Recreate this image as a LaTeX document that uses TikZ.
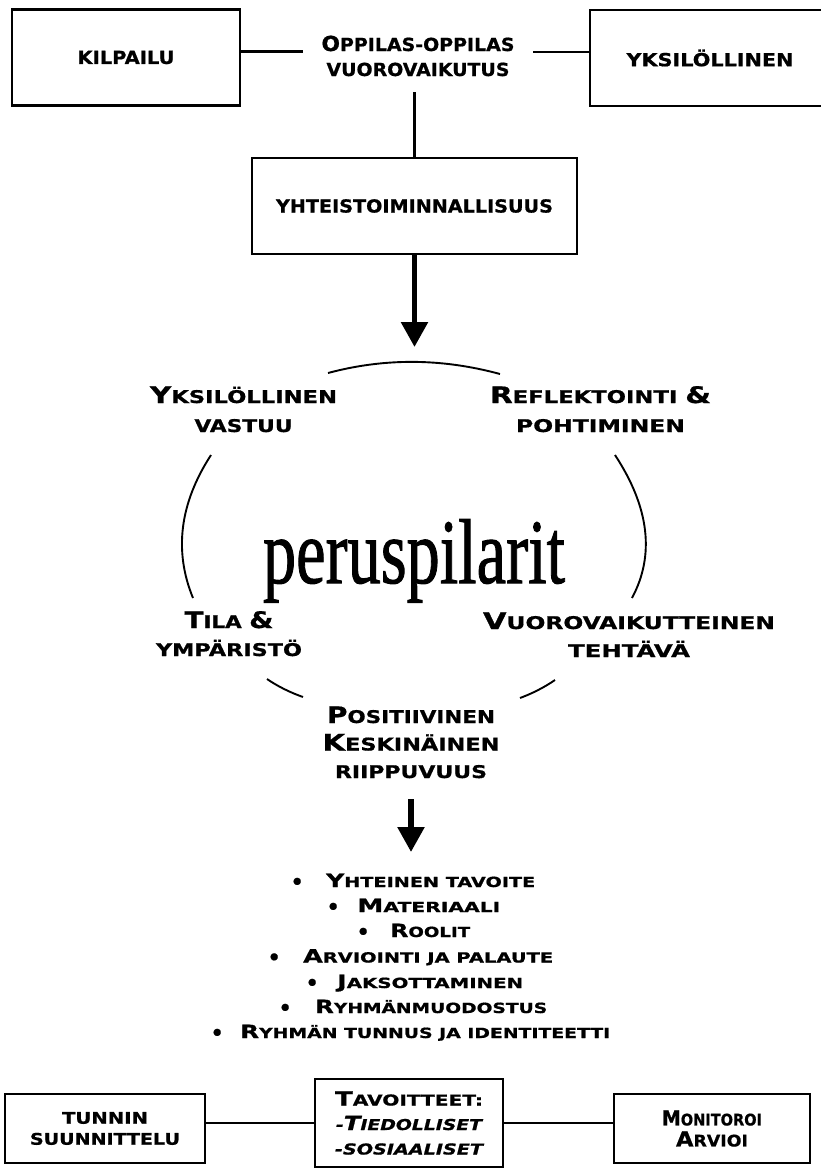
\documentclass[tikz,border=0pt]{standalone}
\usepackage{fontspec}
\usetikzlibrary{arrows.meta}
\newfontfamily\cg{DejaVu Sans}[FakeBold=0.8]
\newfontfamily\ser{Liberation Serif}[FakeBold=1.2]
\newcommand\C[1]{\scalebox{1.3}{#1}}
\newcommand\fit[2]{\resizebox{#1pt}{\height}{#2}}
\newcommand\bul{{\fontsize{20}{20}\selectfont\raisebox{-1.8pt}{•}}}
\begin{document}
\begin{tikzpicture}[x=1pt,y=-1pt,
  box/.style={draw, line width=2.3pt, inner sep=0pt, align=center},
  topf/.style={font=\cg\bfseries\fontsize{18}{25}\selectfont},
  labf/.style={inner sep=0pt, align=center, anchor=base, font=\cg\bfseries\fontsize{17.5}{29}\selectfont},
  itemf/.style={inner sep=0pt, anchor=base west, font=\cg\bfseries\fontsize{14}{25}\selectfont},
  botf/.style={font=\cg\bfseries\fontsize{16}{21}\selectfont},
  conn/.style={line width=2.3pt},
  bigarrow/.style={line width=5.5pt, -{Triangle[width=26pt,length=25pt]}},
  arcline/.style={line width=1.9pt}]
\useasboundingbox (0,0) rectangle (821,1171);
\clip (0,0) rectangle (821,1171);
\fill[white] (0,0) rectangle (821,1171);
% top row
\node[box, topf, minimum width=228pt, minimum height=96pt] (kil) at (126,57.5) {\fit{97}{KILPAILU}};
\node[box, topf, minimum width=240pt, minimum height=96pt] (yks) at (710,58) {\fit{167}{YKSILÖLLINEN}};
\node[topf, align=center, inner xsep=18.5pt, inner ysep=16pt, anchor=base] (opp) at (418,76)
  {\fit{193}{\scalebox{1.15}{O}PPILAS-OPPILAS}\\\fit{183}{VUOROVAIKUTUS}};
\node[box, topf, minimum width=325pt, minimum height=96pt] (yht) at (414.5,206) {\fit{277}{YHTEISTOIMINNALLISUUS}};
\draw[conn] (kil.3.3) -- (kil.3.3 -| opp.west);
\draw[conn] (yks.177.1 -| opp.east) -- (yks.177.1);
\draw[conn] (yht.north |- opp.south) -- (yht.north);
\coordinate (a1) at (414.5,347);
\draw[bigarrow] (yht.south) -- (a1);
% circle of pillars
\draw[arcline] (328,373) .. controls (384,358) and (441,358) .. (500,374);
\draw[arcline] (211,455) .. controls (179.7,503.3) and (173.7,551) .. (193,598);
\draw[arcline] (615,455) .. controls (649.3,507.3) and (655,555) .. (632,598);
\draw[arcline] (267,679) .. controls (277.7,686.3) and (289.7,692.3) .. (303,697);
\draw[arcline] (555,680) .. controls (544.3,687.3) and (532.7,693.3) .. (520,698);
\node[labf] (yv) at (243.5,432) {\fit{187}{\C{Y}KSILÖLLINEN}\\\fit{98}{VASTUU}};
\node[labf] (rp) at (600.5,432) {\fit{221}{\C{R}EFLEKTOINTI \C{\&}}\\\fit{169}{POHTIMINEN}};
\node[anchor=base, inner sep=0pt, font=\ser\fontsize{92}{92}\selectfont] (pp) at (414,583) {\fit{302}{peruspilarit}};
\node[labf, font=\cg\bfseries\fontsize{17.5}{28}\selectfont] (ty) at (229,656) {\fit{89}{\C{T}ILA \C{\&}}\\\fit{146}{YMPÄRISTÖ}};
\node[labf, font=\cg\bfseries\fontsize{17.5}{28}\selectfont] (vt) at (629,657) {\fit{292}{\C{V}UOROVAIKUTTEINEN}\\\fit{122}{TEHTÄVÄ}};
\node[labf, font=\cg\bfseries\fontsize{17.5}{27.5}\selectfont] (pos) at (411,778) {\fit{168}{\C{P}OSITIIVINEN}\\\fit{177}{\C{K}ESKINÄINEN}\\\fit{152}{RIIPPUVUUS}};
\coordinate (a2) at (411,852);
\draw[bigarrow, shorten <=21pt] (pos.south) -- (a2);
% list
\node[itemf] (l1) at (297,887) {\makebox[0pt]{\bul}\hspace{29pt}\fit{209}{\C{Y}HTEINEN TAVOITE}};
\node[itemf] (l2) at (333,912) {\makebox[0pt]{\bul}\hspace{24pt}\fit{143}{\C{M}ATERIAALI}};
\node[itemf] (l3) at (363,937) {\makebox[0pt]{\bul}\hspace{27pt}\fit{80}{\C{R}OOLIT}};
\node[itemf] (l4) at (274,962.5) {\makebox[0pt]{\bul}\hspace{29pt}\fit{250}{\C{A}RVIOINTI JA PALAUTE}};
\node[itemf] (l5) at (312,988) {\makebox[0pt]{\bul}\hspace{25pt}\fit{186}{\C{J}AKSOTTAMINEN}};
\node[itemf] (l6) at (285,1013) {\makebox[0pt]{\bul}\hspace{30pt}\fit{232}{\C{R}YHMÄNMUODOSTUS}};
\node[itemf] (l7) at (217,1038) {\makebox[0pt]{\bul}\hspace{23pt}\fit{370}{\C{R}YHMÄN TUNNUS JA IDENTITEETTI}};
% bottom row
\node[box, botf, minimum width=200pt, minimum height=69pt] (tun) at (105,1128.5) {\fit{86}{TUNNIN}\\\fit{150}{SUUNNITTELU}};
\node[box, botf, font=\cg\bfseries\fontsize{15}{24.5}\selectfont, minimum width=188pt, minimum height=88pt] (tav) at (409,1123)
  {\fit{148}{\C{T}AVOITTEET:}\\{\itshape\fit{146}{-\C{T}IEDOLLISET}}\\{\itshape\fit{148}{-SOSIAALISET}}};
\node[box, botf, minimum width=196pt, minimum height=69pt] (mon) at (712,1128.5) {\fit{100}{\C{M}ONITOROI}\\\fit{72}{\C{A}RVIOI}};
\draw[conn] (tun.east |- tav.west) -- (tav.west);
\draw[conn] (tav.east) -- (tav.east -| mon.west);
\end{tikzpicture}
\end{document}
